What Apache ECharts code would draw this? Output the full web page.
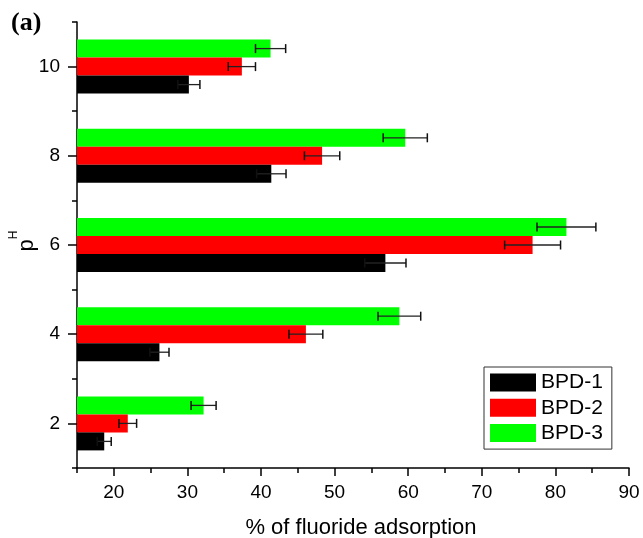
<!DOCTYPE html>
<html>
<head>
<meta charset="utf-8">
<script src="https://cdn.jsdelivr.net/npm/echarts@6/dist/echarts.min.js"></script>
<style>html,body{margin:0;padding:0;background:#fff;}#c{width:643px;height:538px;}</style>
</head>
<body>
<div id="c"></div>
<script>
// ---- data ----
const pH = [2, 4, 6, 8, 10];
const yTickLabels = ['1','2','3','4','5','6','7','8','9','10','11'];
const xTickLabels = ['15','20','25','30','35','40','45','50','55','60','65','70','75','80','85','90'];
const seriesNames = ['BPD-1', 'BPD-2', 'BPD-3'];
const bpd1 = [18.7, 26.2, 56.9, 41.4, 30.2];
const bpd2 = [21.9, 46.1, 76.9, 48.3, 37.4];
const bpd3 = [32.2, 58.8, 81.5, 59.6, 41.3];
const err1 = [0.95, 1.3, 2.8, 2.0, 1.5];
const err2 = [1.2, 2.3, 3.8, 2.4, 1.85];
const err3 = [1.7, 2.9, 4.0, 3.0, 2.05];

// ---- styles ----
const colors = ['#000000', '#ff0000', '#00ff00'];
const barW = 18;
const font = 'Liberation Sans';
const vals = [bpd1, bpd2, bpd3];
const errs = [err1, err2, err3];

const errData = [];
vals.forEach((arr, k) => arr.forEach((v, i) => errData.push([v, String(pH[i]), errs[k][i], k])));

const chart = echarts.init(document.getElementById('c'), null, {renderer: 'canvas'});
const evenIdx = (i) => i % 2 === 1;
// bars: series listed top-to-bottom within a group (BPD-3 on top, BPD-1 at bottom)
const barOrder = [2, 1, 0];
const option = {
  animation: false,
  backgroundColor: '#fff',
  title: {
    text: '(a)', left: 6, top: 5,
    textStyle: {fontFamily: 'Liberation Serif', fontWeight: 'bold', fontSize: 26, color: '#000'}
  },
  legend: {
    orient: 'vertical', left: 484, top: 367,
    data: seriesNames,
    icon: 'rect', itemWidth: 46, itemHeight: 18, itemGap: 4.3,
    padding: [5, 9, 5.5, 6],
    borderColor: '#333', borderWidth: 1,
    textStyle: {fontFamily: font, fontSize: 21, color: '#000'}
  },
  grid: {left: 77, right: 14, top: 22, bottom: 70, containLabel: false, outerBoundsMode: 'none'},
  xAxis: [{
    type: 'value', min: 15, max: 90, interval: 5,
    axisLine: {show: true, lineStyle: {color: '#000', width: 1.5}},
    axisTick: {show: true, length: 5, lineStyle: {color: '#000', width: 1.5}},
    axisLabel: {show: false},
    splitLine: {show: false},
    name: '% of fluoride adsorption', nameLocation: 'middle', nameGap: 49, nameMoveOverlap: false,
    nameTextStyle: {fontFamily: font, fontSize: 22, color: '#000', padding: [0, 0, 0, 16]}
  }, {
    type: 'category', data: xTickLabels, boundaryGap: false, position: 'bottom',
    axisLine: {show: false},
    axisTick: {show: true, length: 8, interval: evenIdx, lineStyle: {color: '#000', width: 1.5}},
    axisLabel: {show: true, interval: evenIdx, margin: 15, fontFamily: font, fontSize: 19, color: '#000'},
    splitLine: {show: false}
  }],
  yAxis: [{
    type: 'category', data: yTickLabels, boundaryGap: false,
    axisLine: {show: true, lineStyle: {color: '#000', width: 1.5}},
    axisTick: {show: true, length: 5, interval: 0, lineStyle: {color: '#000', width: 1.5}},
    axisLabel: {show: true, interval: evenIdx, margin: 17, fontFamily: font, fontSize: 19, color: '#000'},
    splitLine: {show: false},
    name: '{p|p}{h|H}', nameLocation: 'middle', nameRotate: 90, nameGap: 39, nameMoveOverlap: false,
    nameTextStyle: {
      fontFamily: font, color: '#000', padding: [0, 0, 0, 8],
      rich: {
        p: {fontFamily: font, fontSize: 22, color: '#000', lineHeight: 30, verticalAlign: 'bottom'},
        h: {fontFamily: font, fontSize: 12, color: '#000', verticalAlign: 'top'}
      }
    }
  }, {
    type: 'category', data: yTickLabels, boundaryGap: false, position: 'left',
    axisLine: {show: false},
    axisTick: {show: true, length: 9, interval: evenIdx, lineStyle: {color: '#000', width: 1.5}},
    axisLabel: {show: false},
    splitLine: {show: false}
  }],
  series: [
    ...barOrder.map((k) => ({
      name: seriesNames[k], type: 'bar', xAxisIndex: 0, yAxisIndex: 0,
      barWidth: barW, barGap: '0%',
      itemStyle: {color: colors[k]},
      data: vals[k].map((v, i) => [v, String(pH[i])])
    })),
    {
      type: 'custom', xAxisIndex: 0, yAxisIndex: 0, z: 5,
      data: errData,
      renderItem: function (params, api) {
        const v = api.value(0), cat = api.value(1), e = api.value(2), k = api.value(3);
        const off = (1 - k) * barW;
        const p0 = api.coord([v - e, cat]);
        const p1 = api.coord([v + e, cat]);
        const y = p0[1] + off;
        const cap = 4.5;
        return {
          type: 'group',
          children: [
            {type: 'line', shape: {x1: p0[0], y1: y, x2: p1[0], y2: y}, style: {stroke: '#222', lineWidth: 1.3}},
            {type: 'line', shape: {x1: p0[0], y1: y - cap, x2: p0[0], y2: y + cap}, style: {stroke: '#111', lineWidth: 1.5}},
            {type: 'line', shape: {x1: p1[0], y1: y - cap, x2: p1[0], y2: y + cap}, style: {stroke: '#111', lineWidth: 1.5}}
          ]
        };
      }
    }
  ]
};
chart.setOption(option);
</script>
</body>
</html>
